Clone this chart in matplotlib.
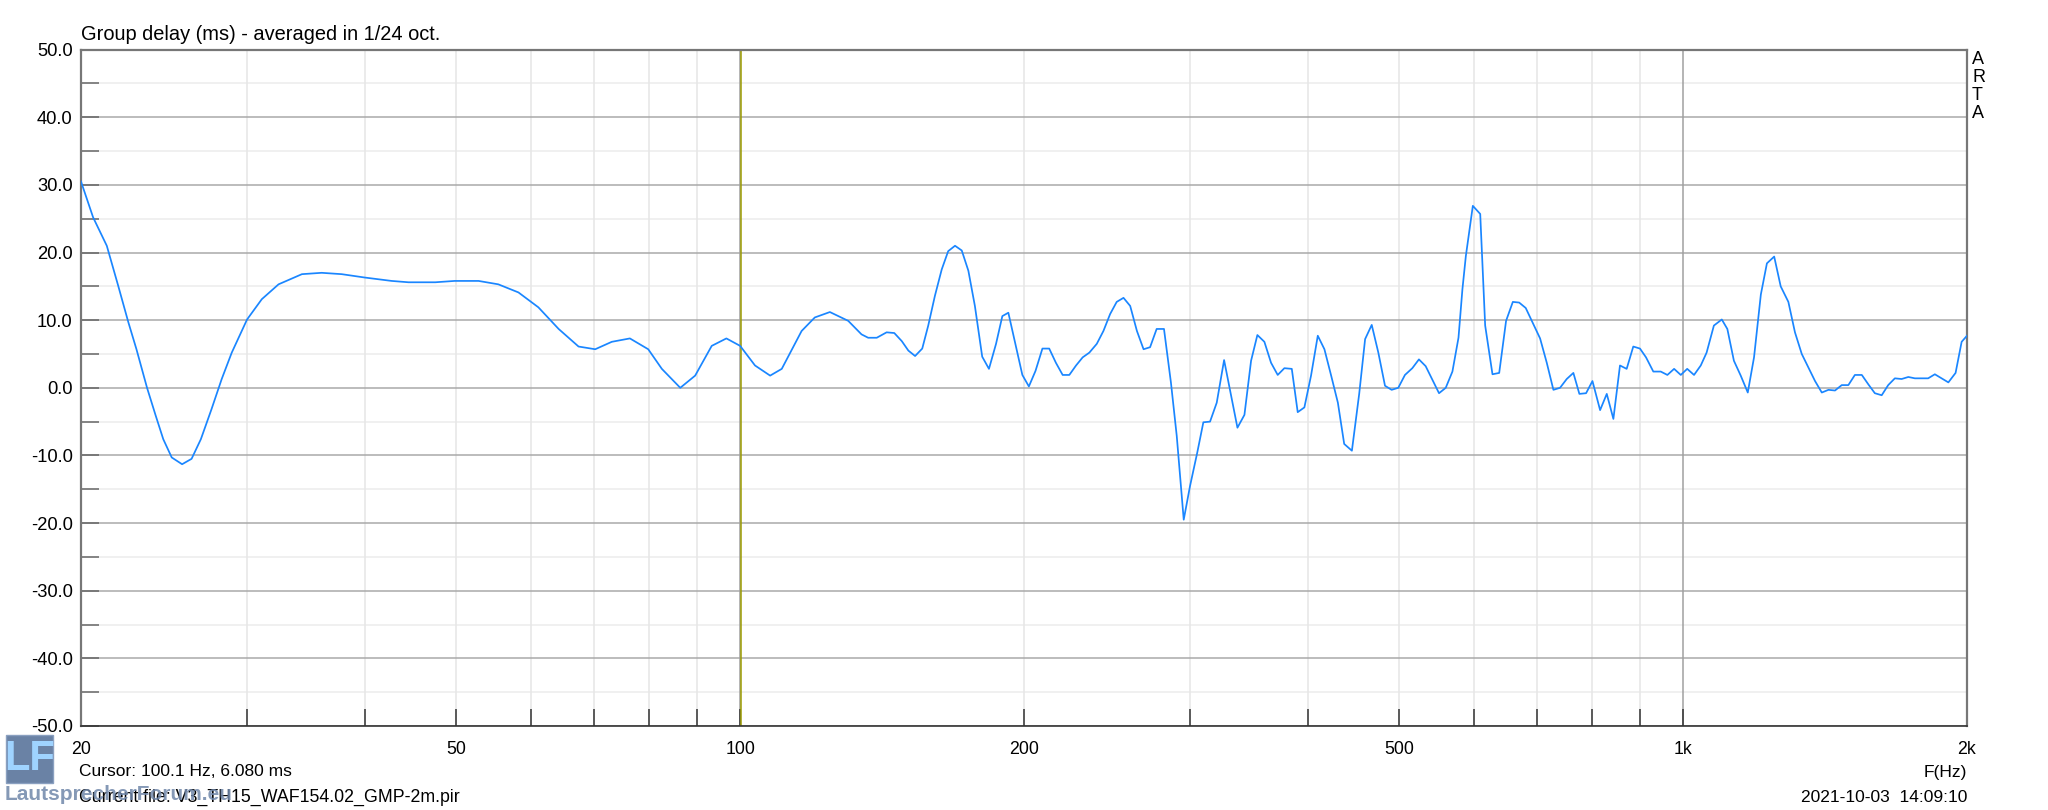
import matplotlib
matplotlib.use("Agg")
import matplotlib.pyplot as plt
from matplotlib.patches import Rectangle

# group delay (1/24 oct averaged)
freq = [20, 20.6, 21.3, 21.9, 22.45, 22.9, 23.5, 24.0, 24.45, 24.96, 25.6, 26.2, 26.8, 27.5,
        28.2, 28.9, 30.0, 31.1, 32.4, 34.3, 36.0, 37.8, 40.0, 42.7, 44.5, 47.5, 49.8, 52.8,
        55.4, 58.2, 61.1, 64.2, 67.4, 70.2, 73.1, 76.4, 79.9, 82.6, 86.4, 89.6, 93.3, 96.7,
        100, 103.7, 107.6, 110.7, 116.2, 120, 124.5, 130.2, 134.5, 136.7, 139.6, 143.0,
        145.7, 148.4, 150.8, 153.3, 156.0, 158.3, 160.9, 163.6, 166.2, 169.0, 171.8, 174.6,
        177.4, 180.6, 183.6, 186.8, 189.7, 192.5, 195.7, 199.2, 202.4, 205.7, 209.2, 212.7,
        216.2, 219.8, 223.4, 227.1, 230.8, 234.6, 238.9, 242.8, 246.8, 250.8, 255.0, 259.2,
        263.5, 267.8, 272.1, 276.5, 281.5, 286.3, 290.4, 295.4, 300, 305.3, 309.9, 315,
        320.2, 326, 331.4, 336.8, 342.6, 348.2, 353.6, 359.7, 365.6, 371.6, 377.7, 384.6,
        390.2, 396.6, 403.1, 409.8, 416.5, 423.4, 430.4, 437.1, 445.4, 453.4, 460.0, 467.5,
        475.1, 482.9, 490.8, 498.8, 507.0, 516.2, 524.6, 533.3, 542.0, 551.0, 560.1, 569.3,
        577.8, 583.4, 588.3, 598.4, 609.3, 616.7, 627.8, 638.2, 649, 659.8, 670.1, 680.9,
        692.6, 705.2, 716.8, 728.5, 740.4, 752.6, 764.9, 776.2, 789.0, 801.4, 816.5, 829.9,
        843.4, 857.1, 871.2, 885.4, 900, 913.4, 929.8, 946.8, 962.3, 978.2, 994.3, 1010,
        1027, 1044, 1059, 1078, 1099, 1114, 1132, 1151, 1171, 1189, 1209, 1227, 1249, 1269,
        1293, 1314, 1336, 1358, 1380, 1403, 1426, 1449, 1473, 1497, 1521, 1547, 1572, 1597,
        1624, 1650, 1677, 1705, 1733, 1761, 1790, 1819, 1849, 1880, 1911, 1945, 1974, 2000]
delay = [30.5, 25.2, 21.0, 15.1, 9.7, 5.7, 0.0, -4.1, -7.6, -10.3, -11.3, -10.5, -7.6, -3.2,
         1.3, 5.2, 10.1, 13.1, 15.3, 16.8, 17.0, 16.8, 16.3, 15.8, 15.6, 15.6, 15.8, 15.8,
         15.3, 14.1, 11.9, 8.7, 6.1, 5.7, 6.8, 7.3, 5.7, 2.8, 0.0, 1.8, 6.2, 7.3,
         6.2, 3.3, 1.8, 2.8, 8.4, 10.4, 11.2, 9.9, 7.9, 7.4, 7.4, 8.2,
         8.1, 6.9, 5.5, 4.7, 5.8, 9.2, 13.6, 17.5, 20.2, 21.0, 20.3, 17.3,
         12.1, 4.6, 2.8, 6.5, 10.6, 11.1, 6.7, 1.9, 0.2, 2.5, 5.8, 5.8,
         3.7, 1.9, 1.9, 3.3, 4.5, 5.2, 6.5, 8.4, 10.9, 12.7, 13.3, 12.1,
         8.4, 5.7, 6.0, 8.7, 8.7, 0.8, -7.1, -19.5, -14.5, -9.6, -5.1, -5.0,
         -2.2, 4.1, -0.9, -5.9, -4.0, 4.0, 7.8, 6.8, 3.7, 1.9, 2.9, 2.8,
         -3.6, -2.9, 1.8, 7.7, 5.7, 1.8, -2.2, -8.3, -9.3, -0.9, 7.2, 9.3,
         5.2, 0.3, -0.3, 0.0, 1.9, 2.9, 4.2, 3.2, 1.2, -0.8, 0.0, 2.4,
         7.4, 14.6, 19.5, 26.9, 25.7, 9.2, 2.0, 2.2, 9.9, 12.7, 12.6, 11.8,
         9.6, 7.3, 3.7, -0.3, 0.0, 1.3, 2.2, -0.9, -0.8, 1.0, -3.3, -0.9,
         -4.6, 3.3, 2.8, 6.1, 5.8, 4.5, 2.4, 2.4, 1.9, 2.8, 1.9, 2.8,
         1.9, 3.3, 5.2, 9.2, 10.1, 8.7, 4.0, 1.8, -0.7, 4.5, 13.8, 18.4, 19.4, 15.0,
         12.7, 8.2, 5.0, 3.0, 1.0, -0.7, -0.3, -0.4, 0.4, 0.4, 1.9, 1.9, 0.5, -0.8,
         -1.1, 0.4, 1.4, 1.3, 1.6, 1.4, 1.4, 1.4, 2.0, 1.4, 0.8, 2.2, 6.8, 7.7]

y_ticks = list(range(-50, 55, 5))
x_ticks = [30, 40, 50, 60, 70, 80, 90, 100, 200, 300, 400, 500, 600, 700, 800, 900, 1000]
x_labels = {20: '20', 50: '50', 100: '100', 200: '200', 500: '500', 1000: '1k', 2000: '2k'}
cursor_freq = 100.1

W, H = 2048, 810
plt.rcParams['font.family'] = ['Liberation Sans', 'DejaVu Sans']

def fx(x):
    return x / W

def fy(y):
    return 1 - y / H

fig = plt.figure(figsize=(W / 100, H / 100), dpi=100)
fig.patch.set_facecolor('white')
ax = fig.add_axes([fx(81), fy(726), (1967 - 81) / W, (726 - 49.6) / H])
ax.set_xscale('log')
ax.set_xlim(20, 2000)
ax.set_ylim(-50, 50)

# grid
for v in y_ticks:
    if v % 10 == 0:
        ax.axhline(v, color='#a9a9a9', lw=1.1, zorder=1)
    else:
        ax.axhline(v, color='#ececec', lw=1.1, zorder=0)
for f in x_ticks:
    if f in (100, 1000):
        ax.axvline(f, color='#a0a0a0', lw=1.1, zorder=1)
    else:
        ax.axvline(f, color='#e6e6e6', lw=1.1, zorder=0)

ax.axvline(cursor_freq, color='#9c9c00', lw=1.1, zorder=2)
ax.plot(freq, delay, color='#1a86ff', lw=1.25, zorder=3)

# ticks
ax.set_yticks(y_ticks)
ax.set_yticklabels([f'{v:.1f}' if v % 10 == 0 else '' for v in y_ticks])
ax.tick_params(axis='y', direction='in', length=13, width=1.1, color='#666666',
               pad=6, labelsize=13.2)
xt = sorted(set(x_ticks) | set(x_labels))
ax.set_xticks(xt)
ax.set_xticklabels([x_labels.get(f, '') for f in xt])
ax.minorticks_off()
ax.tick_params(axis='x', direction='in', length=12, width=1.1, color='#333333',
               pad=11, labelsize=12.8)
for s in ax.spines.values():
    s.set_color('#777777')
    s.set_linewidth(1.6)
ax.spines['bottom'].set_color('#333333')
ax.spines['bottom'].set_linewidth(1.2)

# texts around the plot
title = fig.text(fx(81), fy(34), 'Group delay (ms) - averaged in 1/24 oct.', fontsize=16,
                 va='center', ha='left')
for i, ch in enumerate('ARTA'):
    fig.text(fx(1972), fy(59 + i * 18), ch, fontsize=13, va='center', ha='left')
fig.text(fx(1967), fy(772), 'F(Hz)', fontsize=12.5, va='center', ha='right')
fig.text(fx(1967), fy(797), '2021-10-03  14:09:10', fontsize=12.5, va='center', ha='right')
fig.text(fx(79), fy(772), 'Cursor: 100.1 Hz, 6.080 ms', fontsize=12.5, va='center', ha='left')
fig.text(fx(79), fy(797), 'Current file: V3_TH15_WAF154.02_GMP-2m.pir', fontsize=12.8,
         va='center', ha='left')

# title in the screenshot is wide: fit it to its width there (~359 px)
fig.canvas.draw()
tw = title.get_window_extent().width
title.set_fontsize(min(22, 16 * 359 / tw))

# forum watermark
fig.add_artist(Rectangle((fx(6), fy(783)), 47 / W, 48 / H, transform=fig.transFigure,
                         facecolor='#6a82a5', edgecolor='#8aa0c0', lw=1))
fig.text(fx(29.5), fy(759), 'LF', fontsize=30, fontweight='bold', color='#9fd3ff',
         va='center', ha='center')
fig.text(fx(5), fy(794), 'LautsprecherForum.eu', fontsize=15, fontweight='bold',
         color='#7087aa', alpha=0.85, va='center', ha='left')

fig.savefig('out.png', dpi=100, facecolor='white')
